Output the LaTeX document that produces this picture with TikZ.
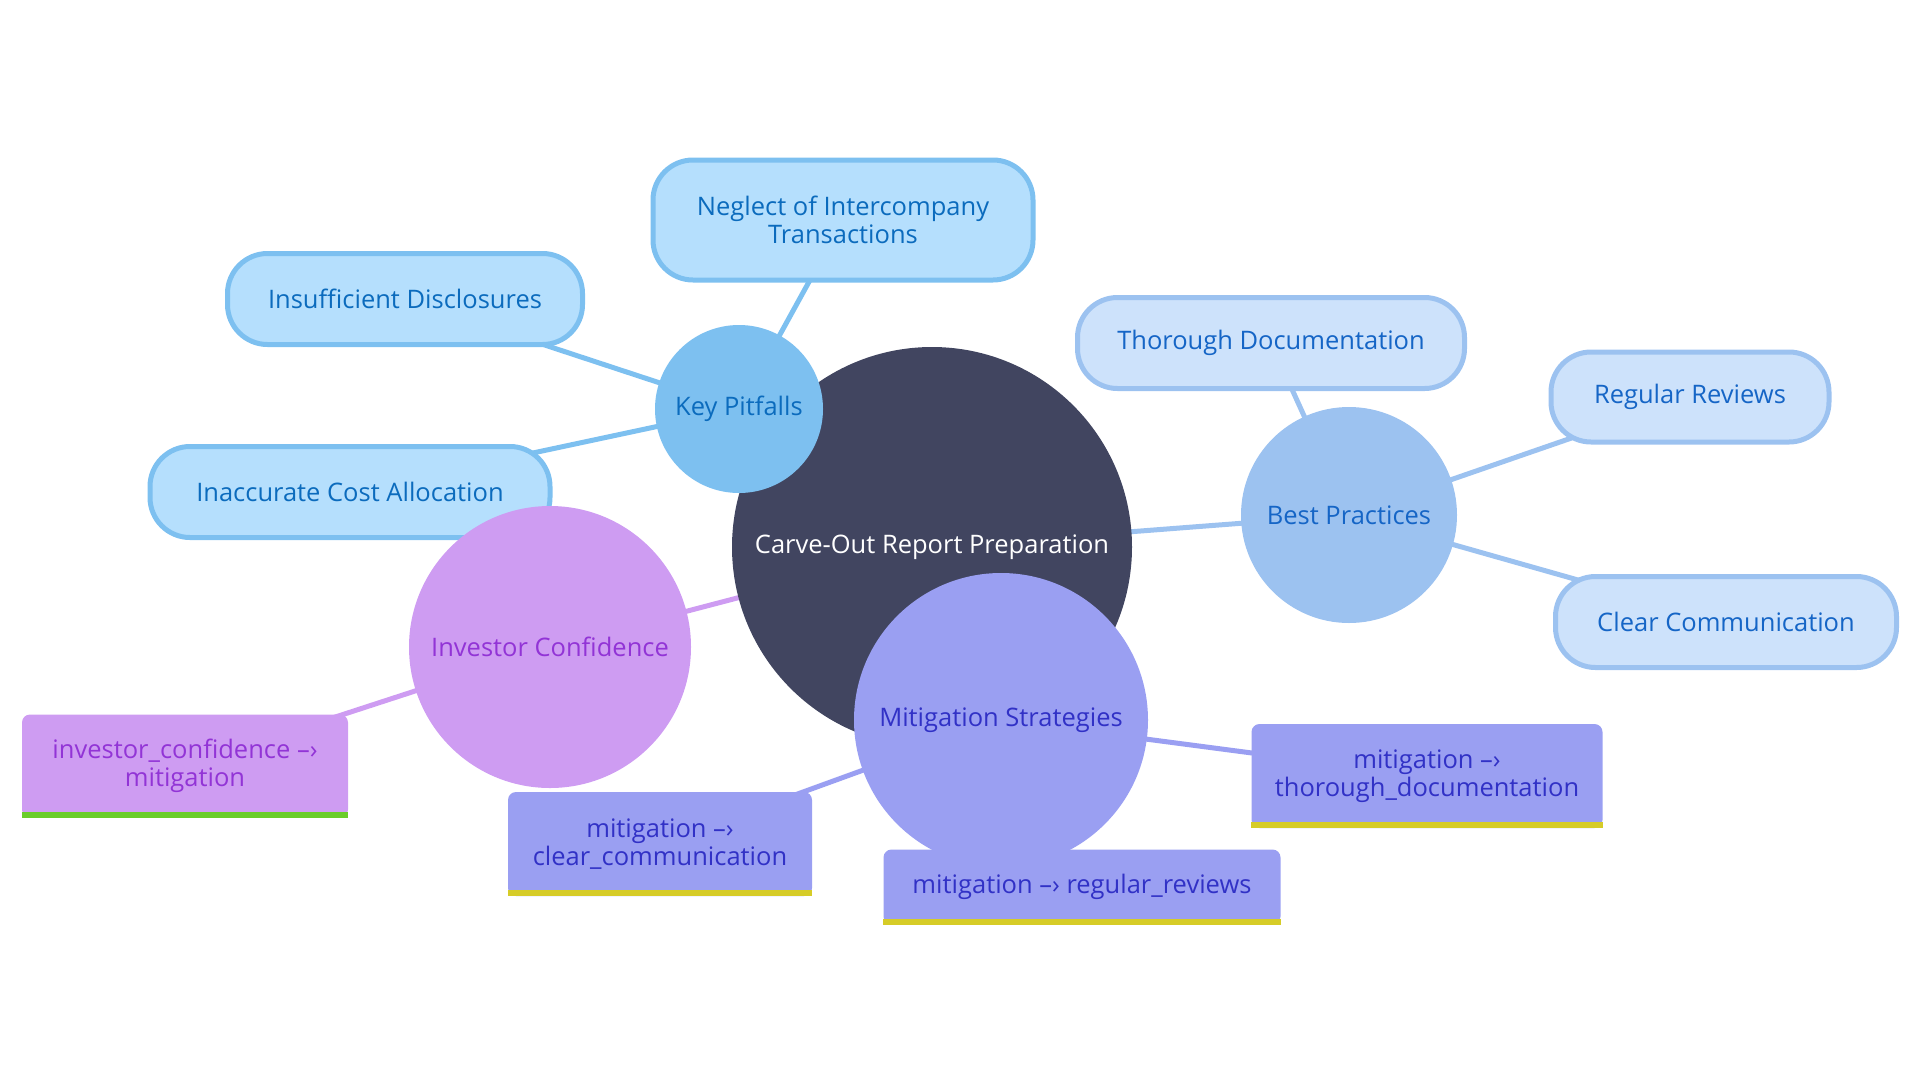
\documentclass[tikz,border=0pt]{standalone}
\usepackage{fontspec}
\setmainfont{Open Sans}
\pgfdeclarelayer{bg}
\pgfsetlayers{bg,main}
\definecolor{cdark}{HTML}{414560}
\definecolor{kpfill}{HTML}{7DC0F0}
\definecolor{kpleaf}{HTML}{B5DFFD}
\definecolor{kptext}{HTML}{0B6BBD}
\definecolor{bpfill}{HTML}{9CC2F0}
\definecolor{bpleaf}{HTML}{CDE2FB}
\definecolor{bptext}{HTML}{1565C6}
\definecolor{icfill}{HTML}{CE9CF2}
\definecolor{ictext}{HTML}{9234D6}
\definecolor{msfill}{HTML}{9A9FF2}
\definecolor{mstext}{HTML}{3131C6}
\definecolor{barG}{HTML}{6ACD2A}
\definecolor{barY}{HTML}{D6CC28}
\begin{document}
\begin{tikzpicture}[x=1pt,y=-1pt,
  every node/.style={font=\fontsize{25.5}{27.5}\selectfont, align=center, inner sep=0pt},
  conn/.style={line width=5pt},
  rootst/.style={circle, fill=cdark, text=white, minimum size=400pt},
  kpcirc/.style={circle, fill=kpfill, text=kptext, minimum size=168pt},
  bpcirc/.style={circle, fill=bpfill, text=bptext, minimum size=216pt},
  iccirc/.style={circle, fill=icfill, text=ictext, minimum size=282pt},
  mscirc/.style={circle, fill=msfill, text=mstext, minimum size=294pt},
  kpleafst/.style={draw=kpfill, fill=kpleaf, text=kptext, line width=5pt, rounded corners=40pt},
  bpleafst/.style={draw=bpfill, fill=bpleaf, text=bptext, line width=5pt, rounded corners=40pt},
  icbox/.style={fill=icfill, text=ictext, rounded corners=8pt},
  msbox/.style={fill=msfill, text=mstext, rounded corners=8pt},
]
\useasboundingbox (0,0) rectangle (1920,1080);

% root and branches
\node[rootst] (C) at (932,547) {Carve-Out Report Preparation};
\node[kpcirc] (KP) at (739,409) {Key Pitfalls};
\node[kpleafst, minimum width=380pt, minimum height=120pt] (N1) at (843,220) {Neglect of Intercompany\\Transactions};
\node[kpleafst, minimum width=355pt, minimum height=91pt] (N2) at (405,299) {Insufficient Disclosures};
\node[kpleafst, minimum width=400pt, minimum height=91pt] (N3) at (350,492) {Inaccurate Cost Allocation};

\node[iccirc] (IC) at (550,647) {Investor Confidence};
\node[icbox, minimum width=326pt, minimum height=103pt] (IB) at (185,766) {investor\_confidence –›\\mitigation};
\fill[barG] (IB.south west) rectangle ([yshift=6pt]IB.south east);

\node[bpcirc] (BP) at (1349,515) {Best Practices};
\node[bpleafst, minimum width=387pt, minimum height=91pt] (T1) at (1271,343) {Thorough Documentation};
\node[bpleafst, minimum width=278pt, minimum height=90pt] (T2) at (1690,397) {Regular Reviews};
\node[bpleafst, minimum width=341pt, minimum height=91pt] (T3) at (1726,622) {Clear Communication};

\node[mscirc] (MS) at (1001,720) {Mitigation Strategies};
\node[msbox, minimum width=304pt, minimum height=104pt] (M1) at (660,844) {mitigation –›\\clear\_communication};
\fill[barY] (M1.south west) rectangle ([yshift=6pt]M1.south east);
\node[msbox, minimum width=397pt, minimum height=75pt] (M2) at (1082,887) {mitigation –› regular\_reviews};
\fill[barY] (M2.south west) rectangle ([yshift=6pt]M2.south east);
\node[msbox, minimum width=351pt, minimum height=104pt] (M3) at (1427,776) {mitigation –›\\thorough\_documentation};
\fill[barY] (M3.south west) rectangle ([yshift=6pt]M3.south east);

% connectors
\begin{pgfonlayer}{bg}
\draw[conn, kpfill] (C.center) -- (KP.center);
\draw[conn, bpfill] (C.center) -- (BP.center);
\draw[conn, icfill] (C.center) -- (IC.center);
\draw[conn, msfill] (C.center) -- (MS.center);
\draw[conn, kpfill] (KP.center) -- (N1.center);
\draw[conn, kpfill] (KP.center) -- (N2.center);
\draw[conn, kpfill] (KP.center) -- (N3.center);
\draw[conn, bpfill] (BP.center) -- (T1.center);
\draw[conn, bpfill] (BP.center) -- (T2.center);
\draw[conn, bpfill] (BP.center) -- (T3.center);
\draw[conn, icfill] (IC.center) -- (IB.center);
\draw[conn, msfill] (MS.center) -- (M1.center);
\draw[conn, msfill] (MS.center) -- (M2.center);
\draw[conn, msfill] (MS.center) -- (M3.center);
\end{pgfonlayer}
\end{tikzpicture}
\end{document}
